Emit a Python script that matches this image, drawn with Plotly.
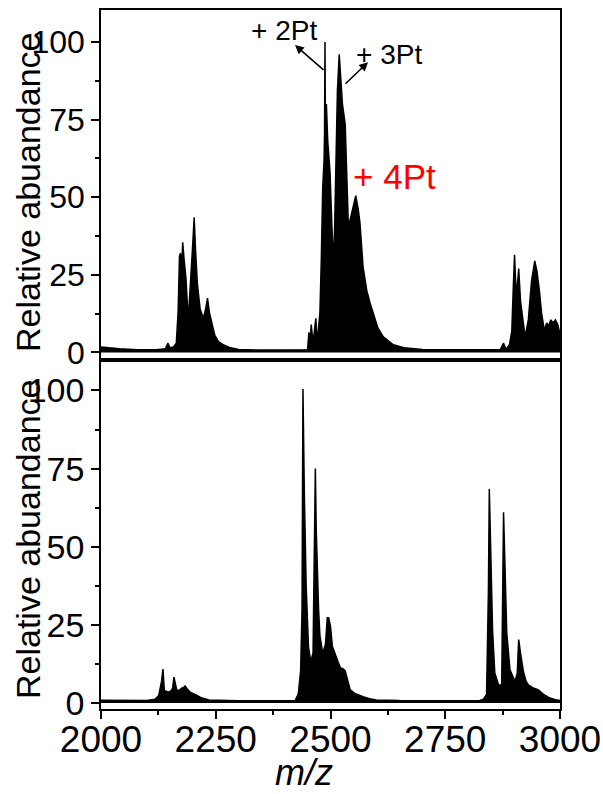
import plotly.graph_objects as go

# ---------------- data ----------------
top_mz = [2000, 2010, 2040, 2080, 2120, 2140, 2146, 2150, 2158, 2164, 2168, 2171, 2173, 2176,
          2178, 2181, 2185, 2190, 2194, 2198, 2201, 2203, 2206, 2210, 2216, 2223, 2228, 2232,
          2236, 2241, 2248, 2256, 2266, 2280, 2300, 2340, 2380, 2420, 2450, 2453, 2455, 2458,
          2462, 2465, 2468, 2471, 2474, 2477, 2480, 2483, 2486, 2487, 2488, 2489, 2491, 2494,
          2499, 2503, 2506, 2509, 2512, 2515, 2519, 2522, 2526, 2532, 2536, 2539, 2544, 2549,
          2555, 2560, 2564, 2571, 2579, 2586, 2593, 2603, 2615, 2637, 2660, 2700, 2750, 2800,
          2850, 2870, 2877, 2882, 2890, 2895, 2898, 2901, 2903, 2905, 2907, 2910, 2914, 2919,
          2924, 2931, 2938, 2945, 2950, 2955, 2960, 2966, 2971, 2975, 2980, 2985, 2990, 2995, 3000]
top_int = [1.8, 1.6, 1.2, 0.9, 0.9, 1.2, 3.0, 1.5, 1.8, 3.0, 13.0, 31.0, 32.0, 28.0,
           35.5, 30.0, 24.0, 10.5, 19.0, 30.0, 38.0, 43.5, 33.0, 22.0, 14.0, 11.0, 14.0, 17.5,
           13.0, 10.0, 5.5, 3.5, 2.5, 1.6, 1.0, 0.8, 0.8, 0.8, 0.9, 6.5, 2.5, 9.0,
           3.0, 7.0, 11.0, 3.0, 9.0, 13.0, 30.0, 53.0, 62.0, 70.0, 100.0, 68.0, 80.0, 68.0,
           58.0, 36.0, 28.5, 40.0, 62.0, 84.0, 96.0, 88.0, 80.0, 73.5, 56.0, 40.5, 43.5, 47.0,
           50.5, 46.5, 42.0, 27.5, 20.0, 16.0, 12.5, 8.0, 5.0, 2.5, 1.5, 1.0, 0.9, 0.8,
           0.8, 0.9, 3.0, 1.0, 2.5, 7.0, 20.0, 31.5, 24.0, 20.0, 21.0, 27.0, 16.5, 10.0,
           5.0, 10.5, 23.0, 29.5, 26.0, 20.0, 12.5, 7.0, 9.5, 8.5, 10.5, 9.5, 10.5, 9.0, 6.0]

bot_mz = [2000, 2030, 2070, 2100, 2118, 2126, 2132, 2135, 2138, 2147, 2153, 2156, 2159, 2162,
          2165, 2170, 2176, 2180, 2183, 2188, 2194, 2208, 2220, 2235, 2260, 2300, 2350, 2400,
          2423, 2430, 2435, 2438, 2440, 2443, 2447, 2452, 2457, 2462, 2465, 2467, 2469, 2471,
          2474, 2477, 2483, 2489, 2493, 2496, 2500, 2504, 2510, 2517, 2522, 2527, 2532, 2537,
          2543, 2553, 2562, 2571, 2585, 2600, 2650, 2700, 2750, 2800, 2825, 2833, 2840, 2844,
          2846, 2849, 2853, 2858, 2866, 2873, 2875, 2877, 2880, 2884, 2891, 2902, 2907, 2910,
          2914, 2920, 2926, 2931, 2942, 2953, 2964, 2978, 2990, 3000]
bot_int = [0.9, 0.8, 0.8, 0.8, 1.2, 2.5, 7.0, 10.9, 4.0, 3.5, 4.0, 4.8, 8.3, 5.5,
           4.2, 4.0, 4.8, 5.0, 5.5, 4.5, 3.5, 2.5, 1.6, 1.0, 0.8, 0.7, 0.7, 0.7,
           0.8, 3.0, 10.5, 30.0, 100.5, 67.0, 37.5, 18.0, 13.3, 16.0, 57.0, 75.0, 55.0, 44.0,
           30.0, 21.5, 16.0, 18.7, 27.3, 27.3, 24.5, 18.2, 15.5, 13.0, 11.2, 11.0, 10.3, 7.5,
           4.2, 3.1, 2.5, 2.0, 1.4, 1.0, 0.8, 0.7, 0.7, 0.7, 0.8, 1.2, 2.8, 35.5,
           68.5, 44.0, 23.5, 9.6, 5.8, 5.8, 30.0, 61.0, 44.5, 22.5, 10.6, 6.9, 9.6, 20.3,
           16.0, 10.3, 7.0, 5.8, 4.8, 4.2, 2.8, 1.6, 1.1, 0.8]

x_ticks = [2000, 2250, 2500, 2750, 3000]
y_ticks = [0, 25, 50, 75, 100]

# ---------------- figure ----------------
FONT = "Liberation Sans, Arial, sans-serif"
fig = go.Figure()
for mz, inten, xa, ya in [(top_mz, top_int, "x", "y"), (bot_mz, bot_int, "x2", "y2")]:
    fig.add_trace(go.Scatter(x=mz, y=inten, xaxis=xa, yaxis=ya, mode="lines",
                             fill="tozeroy", fillcolor="black",
                             line=dict(color="black", width=1.5), hoverinfo="skip",
                             showlegend=False))

axis_common = dict(showline=True, linecolor="black", linewidth=1.5, mirror=True,
                   showgrid=False, zeroline=False, automargin=False)

fig.update_layout(
    width=603, height=794,
    margin=dict(l=101, r=43, t=10, b=85, autoexpand=False),
    paper_bgcolor="white", plot_bgcolor="white",
    showlegend=False,
    font=dict(family=FONT, color="black"),
    xaxis=dict(domain=[0, 1], anchor="y", range=[2000, 3000], ticks="",
               showticklabels=False, **axis_common),
    yaxis=dict(domain=[0.5, 1], anchor="x", range=[-2.26, 110.3],
               tickvals=y_ticks, ticktext=[str(v) for v in y_ticks],
               ticks="outside", ticklen=8, tickwidth=1.5, tickcolor="black",
               tickfont=dict(size=32, family=FONT, color="black"),
               minor=dict(dtick=12.5, tick0=0, ticks="outside", ticklen=4,
                          tickwidth=1.5, tickcolor="black"),
               **axis_common),
    xaxis2=dict(domain=[0, 1], anchor="y2", range=[2000, 3000],
                tickvals=x_ticks, ticktext=[str(v) for v in x_ticks],
                ticks="outside", ticklen=8, tickwidth=1.5, tickcolor="black",
                ticklabelstandoff=-11,
                tickfont=dict(size=37, family=FONT, color="black"),
                minor=dict(dtick=125, tick0=2000, ticks="outside", ticklen=4,
                           tickwidth=1.5, tickcolor="black"),
                **axis_common),
    yaxis2=dict(domain=[0, 0.5], anchor="x2", range=[-1.9, 109.9],
                tickvals=y_ticks, ticktext=[str(v) for v in y_ticks],
                ticks="outside", ticklen=8, tickwidth=1.5, tickcolor="black",
                tickfont=dict(size=34, family=FONT, color="black"),
                minor=dict(dtick=12.5, tick0=0, ticks="outside", ticklen=4,
                           tickwidth=1.5, tickcolor="black"),
                **axis_common),
)

annotations = []
# y axis titles
for yc in [1 - (193 - 10) / 699, 1 - (540 - 10) / 699]:
    annotations.append(dict(text="Relative abuandance", xref="paper", yref="paper",
                            x=(28 - 101) / 459, y=yc, textangle=-90, showarrow=False,
                            xanchor="center", yanchor="middle",
                            font=dict(size=34, family=FONT, color="black")))
# x axis title
annotations.append(dict(text="<i>m/z</i>", xref="paper", yref="paper",
                        x=(304 - 101) / 459, y=(709 - 794) / 699, showarrow=False,
                        xanchor="center", yanchor="bottom", borderpad=0,
                        font=dict(size=36, family=FONT, color="black")))
# peak labels
annotations.append(dict(text="+ 2Pt", xref="x", yref="y", x=2398.7, y=103.7,
                        showarrow=False, font=dict(size=28, family=FONT, color="black")))
annotations.append(dict(text="+ 3Pt", xref="x", yref="y", x=2627.5, y=96.1,
                        showarrow=False, font=dict(size=28, family=FONT, color="black")))
annotations.append(dict(text="+ 4Pt", xref="x", yref="y", x=2640.5, y=56.8,
                        showarrow=False, font=dict(size=35, family=FONT, color="red")))
# arrows
annotations.append(dict(text="", xref="x", yref="y", x=2422.7, y=99.0,
                        axref="x", ayref="y", ax=2488, ay=90.6, showarrow=True,
                        arrowhead=2, arrowsize=1.1, arrowwidth=1.6, arrowcolor="black"))
annotations.append(dict(text="", xref="x", yref="y", x=2581.7, y=93.5,
                        axref="x", ayref="y", ax=2529.4, ay=86.1, showarrow=True,
                        arrowhead=2, arrowsize=1.1, arrowwidth=1.6, arrowcolor="black"))
fig.update_layout(annotations=annotations)

fig.write_html("out.html")
